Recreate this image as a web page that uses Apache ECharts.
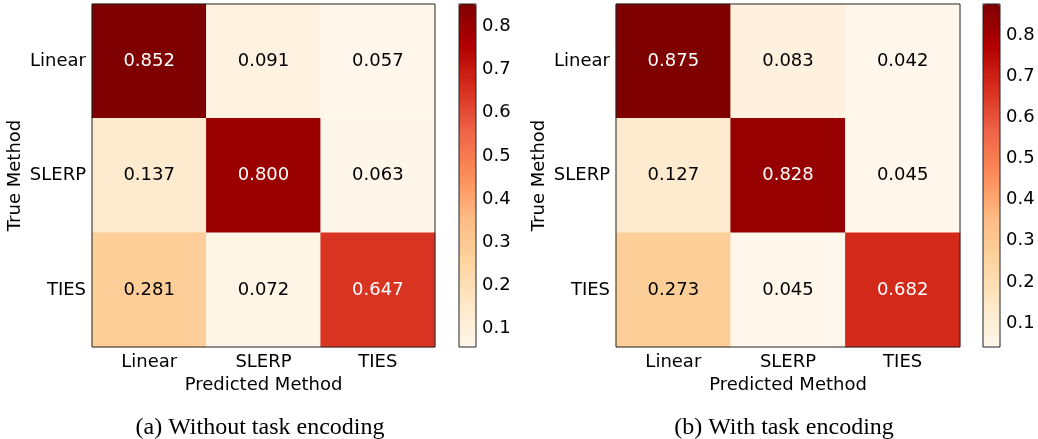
<!DOCTYPE html>
<html><head><meta charset="utf-8">
<script src="https://cdn.jsdelivr.net/npm/echarts@6/dist/echarts.min.js"></script>
<style>html,body{margin:0;padding:0;background:#fff}#c{width:1038px;height:439px}</style>
</head><body><div id="c"></div>
<script>
const categories = ['Linear', 'SLERP', 'TIES'];
// rows = true method, cols = predicted method
const valuesA = [
  [0.852, 0.091, 0.057],
  [0.137, 0.800, 0.063],
  [0.281, 0.072, 0.647]
];
const valuesB = [
  [0.875, 0.083, 0.042],
  [0.127, 0.828, 0.045],
  [0.273, 0.045, 0.682]
];
const colorbarTicks = [0.1, 0.2, 0.3, 0.4, 0.5, 0.6, 0.7, 0.8];
const captions = ['(a) Without task encoding', '(b) With task encoding'];
const xName = 'Predicted Method';
const yName = 'True Method';
const orRd = ['#fff7ec','#fee8c8','#fdd49e','#fdbb84','#fc8d59','#ef6548','#d7301f','#b30000','#7f0000'];

const FONT = 'DejaVu Sans';
const FS = 18;
const chart = echarts.init(document.getElementById('c'), null, {renderer: 'canvas'});

const panels = [
  {vals: valuesA, left: 92, width: 343, cbLeft: 459, capX: 260},
  {vals: valuesB, left: 616, width: 344, cbLeft: 983, capX: 784}
];
const TOP = 4, H = 343;

const grid = [], xAxis = [], yAxis = [], series = [], visualMap = [], graphic = [];
panels.forEach((p, i) => {
  const flat = p.vals.flat();
  const vmin = Math.min(...flat), vmax = Math.max(...flat);
  const thr = (vmin + vmax) / 2;
  grid.push({left: p.left, top: TOP, width: p.width, height: H, show: true, z: 5,
    borderColor: '#222', borderWidth: 1, backgroundColor: 'transparent'});
  grid.push({left: p.cbLeft, top: TOP, width: 17, height: H, show: true, z: 5,
    borderColor: '#222', borderWidth: 1, backgroundColor: 'transparent'});
  const gi = i * 2;
  xAxis.push({type: 'category', gridIndex: gi, data: categories,
    axisLine: {show: false}, axisTick: {alignWithLabel: true, length: 4, lineStyle: {color: '#222'}},
    axisLabel: {fontFamily: FONT, fontSize: FS, color: '#000', margin: 6},
    name: xName, nameLocation: 'middle', nameGap: 27,
    nameTextStyle: {fontFamily: FONT, fontSize: FS, color: '#000'},
    splitLine: {show: false}});
  yAxis.push({type: 'category', gridIndex: gi, data: categories, inverse: true,
    axisLine: {show: false}, axisTick: {alignWithLabel: true, length: 4, lineStyle: {color: '#222'}},
    axisLabel: {fontFamily: FONT, fontSize: FS, color: '#000', margin: 6},
    name: yName, nameLocation: 'middle', nameGap: 68, nameRotate: 90,
    nameTextStyle: {fontFamily: FONT, fontSize: FS, color: '#000'},
    splitLine: {show: false}});
  xAxis.push({type: 'value', gridIndex: gi + 1, show: false, min: 0, max: 1});
  yAxis.push({type: 'value', gridIndex: gi + 1, position: 'right', min: vmin, max: vmax,
    axisLine: {show: false}, splitLine: {show: false},
    axisTick: {show: true, length: 4, customValues: colorbarTicks, lineStyle: {color: '#222'}},
    axisLabel: {show: true, customValues: colorbarTicks, fontFamily: FONT, fontSize: FS, color: '#000',
      margin: 6, formatter: v => Number(v).toFixed(1)}});
  const data = [];
  p.vals.forEach((row, r) => row.forEach((v, c) => {
    data.push({value: [c, r, v], label: {color: v > thr ? '#fff' : '#000'}});
  }));
  series.push({type: 'heatmap', xAxisIndex: gi, yAxisIndex: gi, data,
    label: {show: true, fontFamily: FONT, fontSize: FS, formatter: d => d.value[2].toFixed(3)},
    emphasis: {disabled: true}, itemStyle: {borderWidth: 0}});
  visualMap.push({type: 'continuous', seriesIndex: i, min: vmin, max: vmax,
    inRange: {color: orRd}, calculable: false, hoverLink: false,
    left: p.cbLeft, top: TOP, itemWidth: 17, itemHeight: H, padding: 0,
    text: null, showLabel: false, realtime: false});
  graphic.push({type: 'text', x: p.capX, y: 428,
    style: {text: captions[i], font: '24px "Liberation Serif"', fill: '#000',
      textAlign: 'center', textVerticalAlign: 'middle'}});
});

chart.setOption({
  animation: false,
  grid, xAxis, yAxis, series, visualMap, graphic
});
</script></body></html>
